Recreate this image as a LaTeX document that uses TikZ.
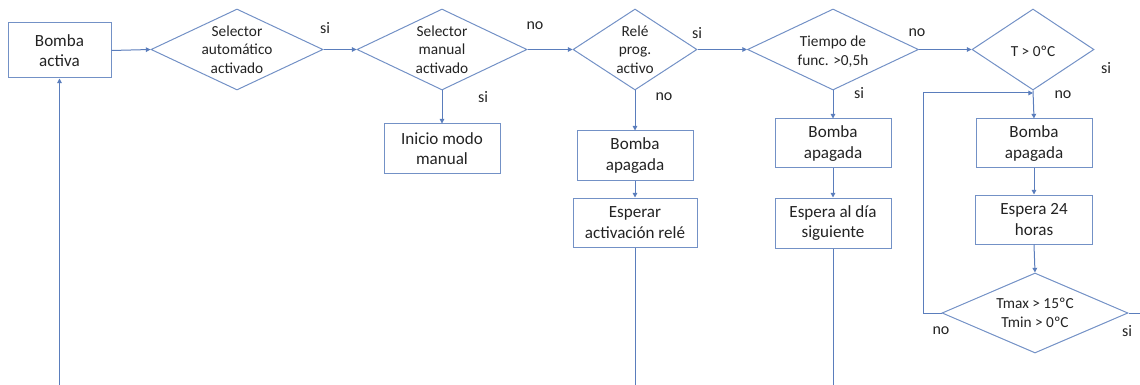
\documentclass[tikz,border=0pt]{standalone}
\usepackage{fontspec}
\setmainfont{Carlito}
\usetikzlibrary{shapes.geometric,arrows.meta}
\definecolor{ln}{RGB}{90,125,188}
\definecolor{bd}{RGB}{115,145,198}
\definecolor{tx}{RGB}{35,35,35}
\tikzset{
  box/.style 2 args={draw=bd, line width=0.75pt, rectangle, minimum width=#1*0.75pt, minimum height=#2*0.75pt, inner sep=0pt, align=center, font=\fontsize{12.8}{15.4}\selectfont, text=tx},
  dia/.style 2 args={draw=bd, line width=0.75pt, diamond, minimum width=#1*0.75pt, minimum height=#2*0.75pt, inner sep=0pt},
  dtext/.style={font=\fontsize{11.5}{13.8}\selectfont, align=center, text=tx, inner sep=0pt},
  lab/.style={font=\fontsize{12}{14}\selectfont, text=tx, inner sep=0pt},
  arr/.style={draw=ln, line width=0.75pt, -{Triangle[length=3.5pt,width=3.5pt]}},
  con/.style={draw=ln, line width=0.75pt}
}
\begin{document}
\begin{tikzpicture}[x=0.75pt,y=-0.75pt]
\useasboundingbox (0,0) rectangle (1140,385);
% boxes
\node[box={103}{55}] (b0) at (59.5,50.5) {Bomba\\activa};
\node[box={116}{49}] (ini) at (442,148.5) {Inicio modo\\manual};
\node[box={116}{49}] (ba1) at (635,155.5) {Bomba\\apagada};
\node[box={124}{49}] (es1) at (635,222.5) {Esperar\\activación relé};
\node[box={116}{49}] (ba2) at (833,143.5) {Bomba\\apagada};
\node[box={116}{50}] (es2) at (833,223) {Espera al día\\siguiente};
\node[box={116}{49}] (ba3) at (1034,143.5) {Bomba\\apagada};
\node[box={117}{49}] (es3) at (1034,219.5) {Espera 24\\horas};
% diamonds
\node[dia={172}{81}] (d1) at (237,49.5) {};
\node[dtext] (t1) at (d1.center) {Selector\\automático\\activado};
\node[dia={170}{81}] (d2) at (442,49.5) {};
\node[dtext] (t2) at (d2.center) {Selector\\manual\\activado};
\node[dia={124}{81}] (d3) at (635,49.5) {};
\node[dtext] (t3) at (d3.center) {Relé\\prog.\\activo};
\node[dia={171}{81}] (d4) at (833,49.5) {};
\node[dtext] (t4) at ([yshift=-1.5pt]d4.center) {Tiempo de\\func. >0,5h};
\node[dia={122}{81}] (d5) at (1033,49.5) {};
\node[dtext] (t5) at ([yshift=-1.5pt]d5.center) {T > 0ºC};
\node[dia={186}{80}] (d6) at (1035,313) {};
\node[dtext] (t6) at (d6.center) {Tmax > 15ºC\\Tmin > 0ºC};
% labels
\node[lab] (l1) at (325,28) {si};
\node[lab] (l2) at (535,26) {no};
\node[lab] (l3) at (483,97) {si};
\node[lab] (l4) at (697,33) {si};
\node[lab] (l5) at (664,97) {no};
\node[lab] (l6) at (917,33) {no};
\node[lab] (l7) at (859,93) {si};
\node[lab] (l8) at (1106,68) {si};
\node[lab] (l9) at (1063,95) {no};
\node[lab] (l10) at (941,331) {no};
\node[lab] (l11) at (1127,331) {si};
% free ends
\coordinate (bot0) at (59.5,385);
\coordinate (bot1) at (635,385);
\coordinate (bot2) at (833,385);
\coordinate (rgt6) at (1140,313);
\coordinate (lp) at (923,313);
\coordinate (lpin) at (1033,93);
% connectors
\draw[arr] (b0.east) -- (d1.west);
\draw[arr] (d1.east) -- (d2.west);
\draw[arr] (d2.south) -- (ini.north);
\draw[arr] (d2.east) -- (d3.west);
\draw[arr] (d3.south) -- (ba1.north);
\draw[arr] (ba1.south) -- (es1.north);
\draw[con] (es1.south) -- (bot1);
\draw[arr] (d3.east) -- (d4.west);
\draw[arr] (d4.south) -- (ba2.north);
\draw[arr] (ba2.south) -- (es2.north);
\draw[con] (es2.south) -- (bot2);
\draw[arr] (d4.east) -- (d5.west);
\draw[arr] (d5.south) -- (ba3.north);
\draw[arr] (ba3.south) -- (es3.north);
\draw[arr] (es3.south) -- (d6.north);
\draw[arr] (d6.west) -- (lp) |- (lpin);
\draw[con] (d6.east) -- (rgt6);
\draw[arr] (bot0) -- (b0.south);
\end{tikzpicture}
\end{document}
